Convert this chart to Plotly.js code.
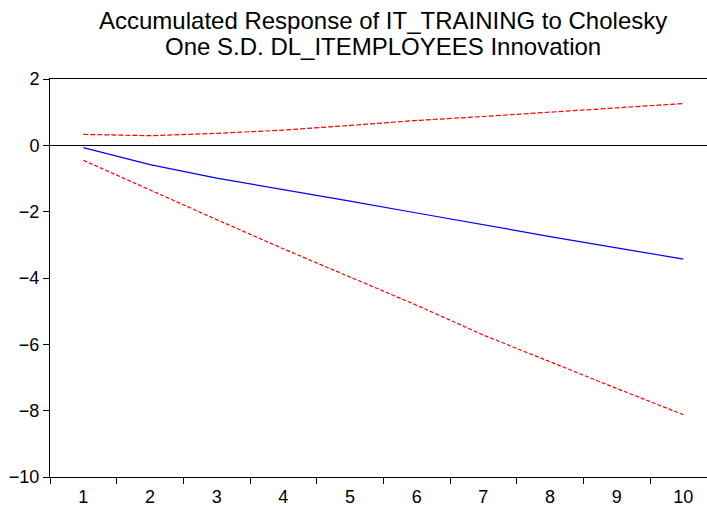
<!DOCTYPE html>
<html>
<head>
<meta charset="utf-8">
<script src="https://cdn.plot.ly/plotly-3.0.1.min.js"></script>
<style>html,body{margin:0;padding:0;background:#fff;}</style>
</head>
<body>
<div id="chart" style="width:707px;height:508px;"></div>
<script>
const periods = ["1","2","3","4","5","6","7","8","9","10"];
const response = [-0.07, -0.58, -0.99, -1.33, -1.68, -2.04, -2.40, -2.75, -3.09, -3.43];
const upperBand = [0.33, 0.29, 0.36, 0.46, 0.60, 0.75, 0.87, 1.00, 1.13, 1.26];
const lowerBand = [-0.45, -1.35, -2.24, -3.12, -3.98, -4.82, -5.72, -6.53, -7.33, -8.12];
const yTicks = [2, 0, -2, -4, -6, -8, -10];
const titleLines = ["Accumulated Response of IT_TRAINING to Cholesky", "One S.D. DL_ITEMPLOYEES Innovation"];

const font = "Arial, 'Liberation Sans', sans-serif";
const traces = [
  {x: periods, y: upperBand, type: "scatter", mode: "lines",
   line: {color: "#ff0000", width: 1.2, dash: "5px,2px"}, hoverinfo: "skip"},
  {x: periods, y: lowerBand, type: "scatter", mode: "lines",
   line: {color: "#ff0000", width: 1.2, dash: "4px,2px"}, hoverinfo: "skip"},
  {x: periods, y: response, type: "scatter", mode: "lines",
   line: {color: "#0000ff", width: 1.2}, hoverinfo: "skip"}
];
const titleY = [1.148, 1.0817];
const layout = {
  width: 707, height: 508,
  margin: {l: 50, r: 0, t: 79, b: 31, pad: 0},
  paper_bgcolor: "#fff", plot_bgcolor: "#fff",
  showlegend: false,
  font: {family: font, color: "#000", size: 18},
  annotations: titleLines.map((t, i) => ({
    text: t, showarrow: false,
    xref: "paper", x: 0.507, xanchor: "center",
    yref: "paper", y: titleY[i], yanchor: "middle",
    font: {family: font, size: 24, color: "#000"}
  })),
  xaxis: {
    type: "category",
    range: [-0.5, 9.355],
    showgrid: false, zeroline: false,
    showline: true, linecolor: "#000", linewidth: 1, mirror: true,
    ticks: "outside", ticklen: 6, tickcolor: "#000", tickwidth: 1,
    tickson: "boundaries",
    ticklabelstandoff: 3,
    tickfont: {family: font, size: 18, color: "#000"}
  },
  yaxis: {
    range: [-10, 2],
    tickvals: yTicks,
    showgrid: false,
    zeroline: true, zerolinecolor: "#000", zerolinewidth: 1,
    showline: true, linecolor: "#000", linewidth: 1,
    ticks: "outside", ticklen: 6, tickcolor: "#000", tickwidth: 1,
    tickfont: {family: font, size: 18, color: "#000"}
  }
};
Plotly.newPlot("chart", traces, layout, {staticPlot: true, displayModeBar: false});
</script>
</body>
</html>
